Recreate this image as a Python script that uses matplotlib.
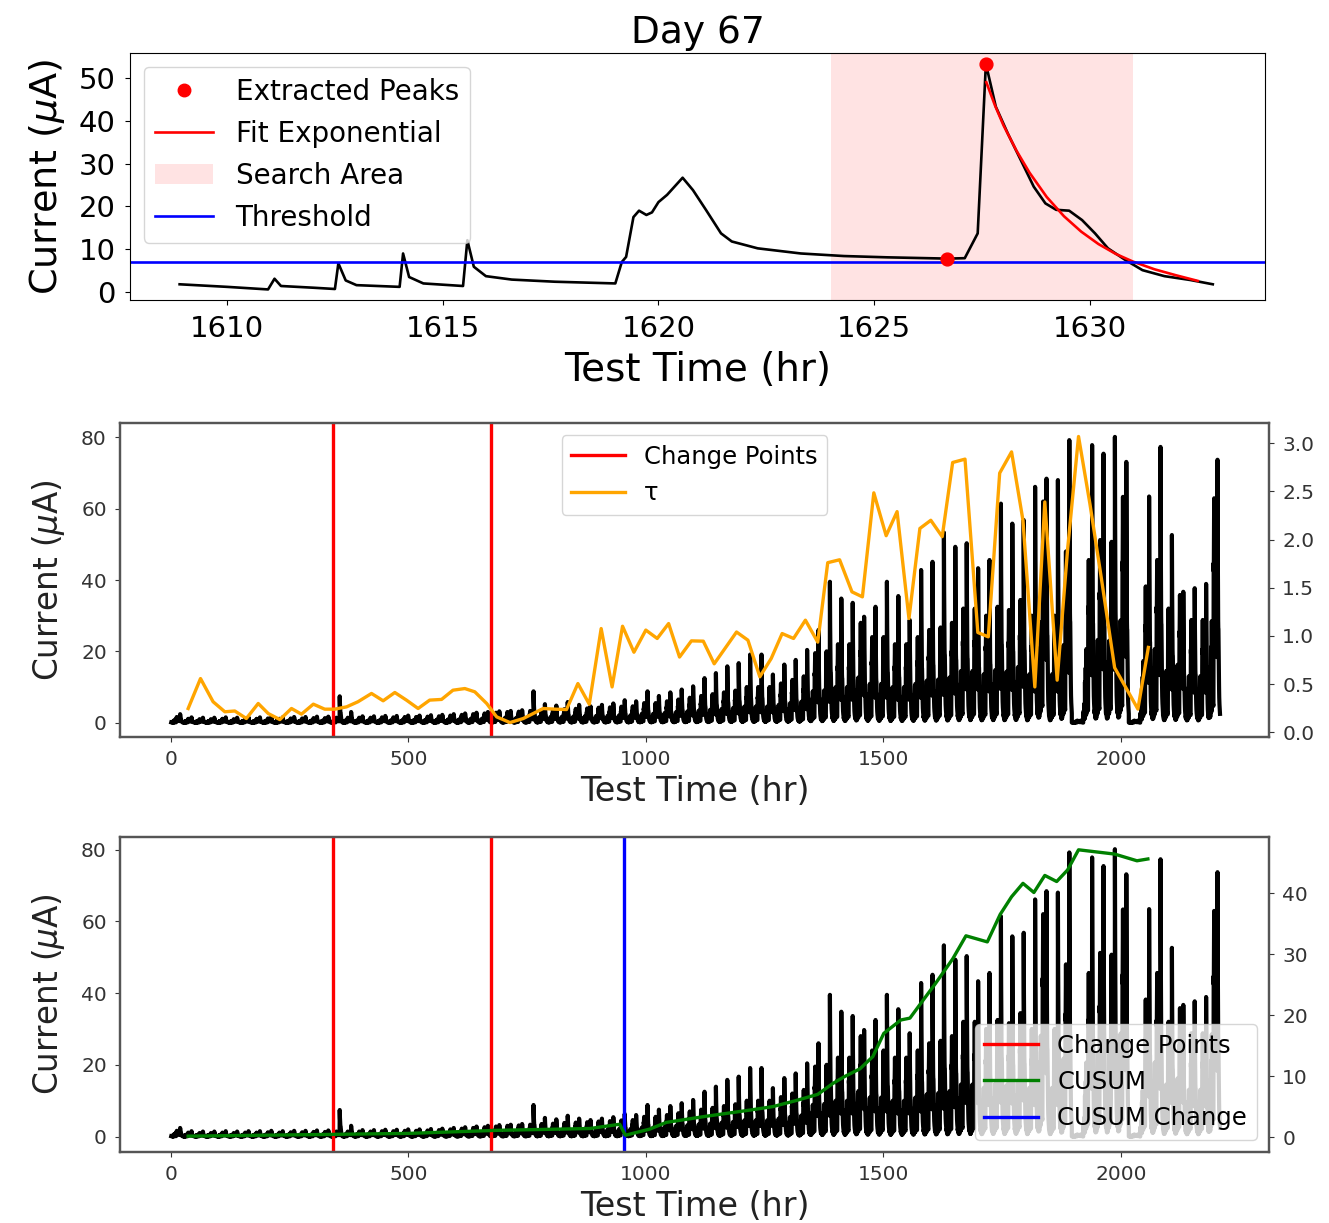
import matplotlib
matplotlib.use("Agg")
import matplotlib.pyplot as plt
import numpy as np
from matplotlib.lines import Line2D
from matplotlib.patches import Patch

# ---- Day 67 trace (top panel) ----
TOP_T = [1608.9, 1610.0, 1610.95, 1611.1, 1611.25, 1612.0, 1612.5, 1612.58, 1612.75,
         1613.0, 1614.0, 1614.08, 1614.22, 1614.55, 1615.47, 1615.57, 1615.72, 1616.0,
         1616.6, 1617.6, 1619.0, 1619.15, 1619.25, 1619.42, 1619.55, 1619.72, 1619.85,
         1620.0, 1620.2, 1620.56, 1620.8, 1621.1, 1621.45, 1621.7, 1622.3, 1623.3,
         1624.3, 1625.3, 1626.7, 1627.1, 1627.4, 1627.59, 1627.82, 1628.1, 1628.4,
         1628.7, 1628.97, 1629.22, 1629.52, 1629.82, 1630.12, 1630.42, 1630.82,
         1631.22, 1631.73, 1632.33, 1632.85]
TOP_I = [1.8, 1.2, 0.6, 3.1, 1.4, 1.0, 0.7, 6.7, 2.7,
         1.6, 1.2, 9.0, 3.5, 2.0, 1.4, 12.1, 5.9, 3.7,
         2.9, 2.4, 2.0, 7.0, 8.2, 17.5, 19.0, 18.0, 18.6,
         21.0, 22.7, 26.7, 23.8, 19.2, 13.7, 11.8, 10.2, 9.0,
         8.4, 8.1, 7.8, 7.9, 13.7, 53.3, 43.3, 37.0, 30.8,
         24.6, 20.7, 19.2, 19.0, 16.8, 13.7, 10.2, 7.5,
         5.1, 3.7, 2.8, 1.8]
PEAK_T = [1627.59, 1626.69]
PEAK_I = [53.3, 7.8]
FIT_T = [1627.6, 1627.8, 1628.0, 1628.3, 1628.6, 1629.0, 1629.4, 1629.8, 1630.2,
         1630.6, 1631.0, 1631.5, 1632.0, 1632.5]
FIT_I = [49.0, 43.6, 38.9, 33.0, 27.9, 22.2, 17.7, 14.1, 11.2, 8.9, 7.1, 5.3, 3.9, 2.6]
THRESHOLD = 7.0
SEARCH = (1624.0, 1631.0)

# ---- per-day levels for the full test (days 0..91) ----
DAY_PEAK = [2.4, 1.5, 1.4, 1.4, 1.5, 1.4, 1.5, 1.5, 1.6, 1.5, 1.6, 1.6, 1.7, 1.7,
            7.4, 3.0,
            1.8, 1.8, 1.9, 1.9, 2.0, 2.0, 2.1, 2.2,
            2.4, 2.6, 2.8, 3.0, 3.2, 3.3, 3.5,
            8.8,
            5.2, 4.8, 5.8, 5.0, 4.6, 5.0, 5.4, 6.3, 6.0,
            8.8, 7.5, 8.5, 9.3, 10.2, 12.5, 13.9, 15.8, 16.7, 19.1, 19.1, 13.5, 16.3,
            17.6, 20.4, 26.0,
            39.5, 34.8, 33.6, 29.7, 32.5, 39.5, 35.5,
            28.8, 42.8, 45.1, 53.3, 49.3, 50.3, 43.3, 45.6,
            61.4, 55.8, 56.8, 66.1, 68.4, 68.0, 79.2,
            0.6,
            77.8, 75.4, 80.1, 73.1,
            0.6,
            63.4, 77.3, 52.6, 36.7, 37.7, 38.9, 73.7]
DAY_BAND = [1.6, 1.1, 1.0, 1.0, 1.1, 1.0, 1.1, 1.1, 1.2, 1.1, 1.2, 1.2, 1.3, 1.3,
            1.4, 1.4,
            1.4, 1.4, 1.5, 1.5, 1.6, 1.6, 1.7, 1.8,
            2.0, 2.2, 2.4, 2.6, 2.8, 3.0, 3.1,
            3.3,
            3.5, 3.6, 3.8, 3.9, 4.0, 4.2, 4.3, 4.5, 4.6,
            5.5, 5.5, 6.0, 6.5, 7.0, 7.5, 8.0, 8.5, 9.0, 10.0, 10.0, 10.0, 11.0,
            12.0, 13.0, 19.5,
            20.0, 22.0, 22.0, 28.0, 24.0, 24.0, 22.0,
            22.0, 24.0, 26.0, 26.7, 28.0, 32.0, 32.0, 30.0,
            32.5, 31.6, 34.4, 30.0, 62.0, 30.0, 48.0,
            0.6,
            45.6, 51.2, 50.7, 63.3,
            0.6,
            38.2, 45.6, 32.0, 35.8, 28.8, 28.8, 62.9]

TAU_T = [36.5, 62.5, 89, 113.7, 134.7, 159, 184, 205, 229.5, 254, 275, 300, 324, 345,
         370, 394, 422.5, 447, 471.6, 496, 520.6, 545, 570, 594, 619, 640, 665, 686,
         714, 742, 784, 808, 833, 857, 881, 906, 929, 951, 975, 1000, 1024, 1048,
         1071, 1096, 1121, 1144, 1191, 1215, 1240, 1264, 1287, 1311, 1336, 1362,
         1383, 1408, 1434, 1456, 1480, 1506, 1529, 1554, 1577, 1600, 1624, 1646,
         1672, 1699, 1721, 1745, 1770, 1794, 1819, 1840, 1866, 1888, 1911, 1935,
         1959, 1987, 2036, 2058]
TAU_V = [0.246, 0.557, 0.316, 0.212, 0.22, 0.142, 0.298, 0.194, 0.131, 0.246, 0.187,
         0.291, 0.239, 0.239, 0.263, 0.316, 0.402, 0.326, 0.412, 0.333, 0.246, 0.333,
         0.34, 0.436, 0.453, 0.419, 0.298, 0.159, 0.1, 0.142, 0.246, 0.239, 0.235,
         0.505, 0.29, 1.076, 0.47, 1.1, 0.83, 1.06, 0.973, 1.128, 0.78, 0.948, 0.945,
         0.71, 1.04, 0.955, 0.575, 0.765, 1.024, 0.973, 1.163, 0.935, 1.76, 1.79,
         1.457, 1.405, 2.485, 2.04, 2.29, 1.18, 2.115, 2.2, 2.03, 2.8, 2.835, 1.035,
         0.99, 2.69, 2.91, 2.2, 0.47, 2.39, 0.54, 1.9, 3.07, 2.37, 1.6, 0.67, 0.24,
         0.88]

CUSUM_T = [36.5, 300, 500, 686, 882, 945, 957, 1008, 1043, 1126, 1226, 1268, 1317,
           1362, 1394, 1418, 1451, 1478, 1501, 1537, 1556, 1610, 1646, 1674, 1719,
           1746, 1770, 1794, 1817, 1840, 1865, 1888, 1911, 1987, 2034, 2057]
CUSUM_V = [0.15, 0.4, 0.6, 1.1, 1.4, 2.1, 0.3, 1.3, 2.4, 3.4, 4.5, 5.0, 6.0, 7.0,
           8.8, 9.9, 11.2, 13.2, 17.0, 19.2, 19.5, 25.2, 29.2, 33.0, 32.0, 36.5,
           39.4, 41.6, 40.1, 42.9, 41.9, 43.8, 47.1, 46.4, 45.3, 45.6]

CHANGE_POINTS = [341, 674]
CUSUM_CHANGE = 954

# full-test trace: each day follows the day-67 shape, scaled to that day's levels
top_t = np.array(TOP_T)
top_i = np.array(TOP_I)
pre_peak = top_t < 1627.3
full_t, full_i = [], []
for d, (pk, bd) in enumerate(zip(DAY_PEAK, DAY_BAND)):
    full_t.append(24 * d + (top_t - 1608.0))
    full_i.append(np.where(pre_peak, top_i * bd / 26.7, top_i * pk / 53.3))
full_t = np.concatenate(full_t)
full_i = np.concatenate(full_i)

W, H = 1329, 1223
fig = plt.figure(figsize=(W / 100, H / 100), dpi=100)


def box(l, t, r, b):
    return [l / W, (H - b) / H, (r - l) / W, (b - t) / H]


# ---- top panel ----
ax1 = fig.add_axes(box(130, 53, 1265, 300))
ax1.axvspan(*SEARCH, color="red", alpha=0.11, lw=0)
ax1.plot(TOP_T, TOP_I, color="black", lw=1.9)
ax1.plot(FIT_T, FIT_I, color="red", lw=1.9)
ax1.axhline(THRESHOLD, color="blue", lw=1.9)
ax1.scatter(PEAK_T, PEAK_I, color="red", s=85, zorder=5)
ax1.set_xlim(1607.75, 1634.06)
ax1.set_ylim(-1.87, 55.84)
ax1.set_xticks([1610, 1615, 1620, 1625, 1630])
ax1.set_yticks([0, 10, 20, 30, 40, 50])
ax1.tick_params(labelsize=21, pad=7)
ax1.set_title("Day 67", fontsize=27, pad=7)
ax1.set_xlabel("Test Time (hr)", fontsize=28, labelpad=6)
ax1.set_ylabel(r"Current ($\mu$A)", fontsize=27.5, labelpad=8)
handles = [
    Line2D([], [], marker="o", ls="none", color="red", markersize=9),
    Line2D([], [], color="red", lw=1.9),
    Patch(facecolor="red", alpha=0.11),
    Line2D([], [], color="blue", lw=1.9),
]
ax1.legend(handles, ["Extracted Peaks", "Fit Exponential", "Search Area", "Threshold"],
           loc="upper left", fontsize=20, handlelength=2.1)


def style_overview(ax):
    ax.set_xlim(-107, 2312)
    ax.set_ylim(-4.0, 84.0)
    ax.set_xticks([0, 500, 1000, 1500, 2000])
    ax.set_yticks([0, 20, 40, 60, 80])
    ax.tick_params(labelsize=14.5, colors="#333333", pad=6)
    ax.set_xlabel("Test Time (hr)", fontsize=24, color="#222222", labelpad=4)
    ax.set_ylabel(r"Current ($\mu$A)", fontsize=23.5, color="#222222", labelpad=10)
    for s in ax.spines.values():
        s.set_color("#555555")
        s.set_linewidth(1.6)


def style_right(ax):
    ax.tick_params(labelsize=14.5, colors="#333333", pad=6)
    for s in ax.spines.values():
        s.set_color("#555555")
        s.set_linewidth(1.6)


# ---- middle panel ----
ax2 = fig.add_axes(box(120, 423, 1269, 737))
ax2.plot(full_t, full_i, color="black", lw=3.0)
for cp in CHANGE_POINTS:
    ax2.axvline(cp, color="red", lw=2.4)
style_overview(ax2)
ax2r = ax2.twinx()
ax2r.plot(TAU_T, TAU_V, color="orange", lw=2.4)
ax2r.set_ylim(-0.05, 3.21)
ax2r.set_yticks([0.0, 0.5, 1.0, 1.5, 2.0, 2.5, 3.0])
style_right(ax2r)
ax2r.legend([Line2D([], [], color="red", lw=2.4), Line2D([], [], color="orange", lw=2.4)],
            ["Change Points", "τ"], loc="upper center", fontsize=17.5, handlelength=2.2)

# ---- bottom panel ----
ax3 = fig.add_axes(box(120, 837, 1269, 1152))
ax3.plot(full_t, full_i, color="black", lw=3.0)
for cp in CHANGE_POINTS:
    ax3.axvline(cp, color="red", lw=2.4)
ax3.axvline(CUSUM_CHANGE, color="blue", lw=2.4)
style_overview(ax3)
ax3.set_ylim(-4.3, 83.5)
ax3r = ax3.twinx()
ax3r.plot(CUSUM_T, CUSUM_V, color="green", lw=2.4)
ax3r.set_ylim(-2.45, 49.2)
ax3r.set_yticks([0, 10, 20, 30, 40])
style_right(ax3r)
ax3r.legend([Line2D([], [], color="red", lw=2.4), Line2D([], [], color="green", lw=2.4),
             Line2D([], [], color="blue", lw=2.4)],
            ["Change Points", "CUSUM", "CUSUM Change"], loc="lower right", fontsize=17.5,
            handlelength=2.2)

fig.savefig("out.png", dpi=100)
